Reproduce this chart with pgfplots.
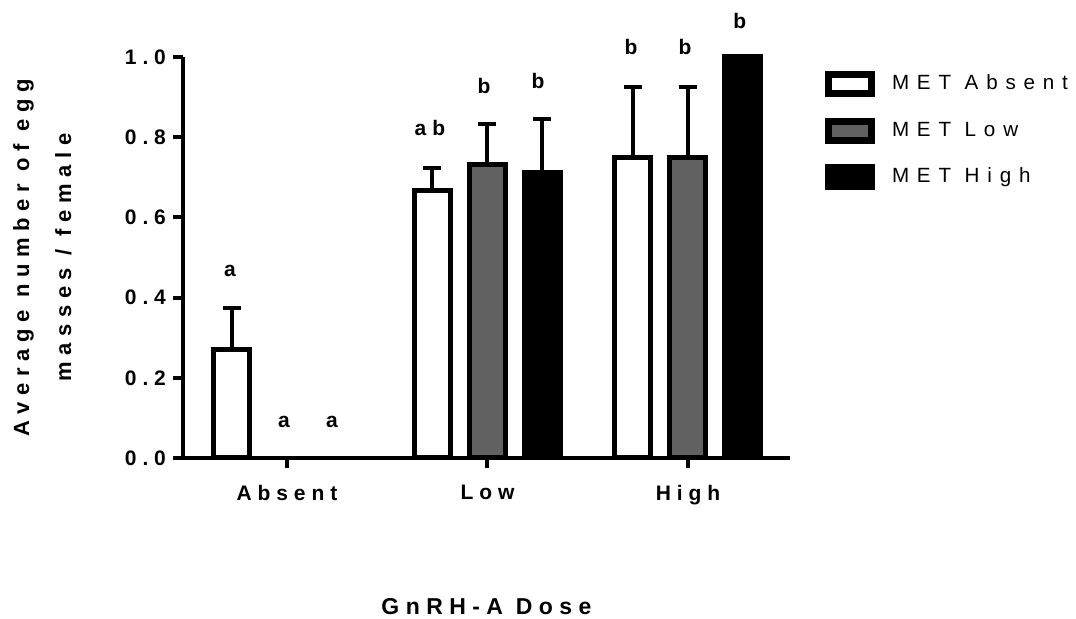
\documentclass[border=0pt]{standalone}
\usepackage{fontspec}
\setmainfont{Liberation Sans}
\newfontfamily\trk[LetterSpace=28]{Liberation Sans}
\newfontfamily\trky[LetterSpace=30]{Liberation Sans}
\newfontfamily\trkl[LetterSpace=38]{Liberation Sans}
\usepackage{pgfplots}
\pgfplotsset{compat=1.18}
\definecolor{metgray}{RGB}{97,97,97}
\pgfplotsset{
  metbar/.style={ybar, bar width=18pt, bar shift=0pt, draw=black, line width=2.5pt,
    error bars/.cd, y dir=plus, y explicit,
    error bar style={line width=2pt, black},
    error mark=-,
    error mark options={rotate=90, line width=2pt, mark size=4.5pt, black}},
}
\begin{document}
\begin{tikzpicture}
\useasboundingbox (0,0) rectangle (538pt,309.5pt);
\begin{axis}[
  at={(91.5pt,80.5pt)}, anchor=south west,
  scale only axis, width=303.5pt, height=200.5pt,
  xmin=-0.5187, xmax=2.509, ymin=0, ymax=1,
  axis x line=bottom, axis y line=left,
  axis line style={-, line width=2.25pt},
  xtick={0,1,2}, xticklabels={Absent,Low,High},
  ytick={0,0.2,0.4,0.6,0.8,1.0},
  yticklabels={0.0,0.2,0.4,0.6,0.8,1.0},
  tick align=outside, major tick length=5pt,
  tick style={line width=2pt, black},
  ticklabel style={font=\trk\bfseries\fontsize{10.5pt}{12pt}\selectfont},
  xticklabel style={yshift=-5pt},
  clip=false,
  xlabel={GnRH-A Dose},
  xlabel style={font=\trk\bfseries\fontsize{11.5pt}{13pt}\selectfont, at={(axis description cs:0.5,-0.3915)}, anchor=base},
  ylabel={Average number of egg\\masses / female},
  ylabel style={font=\trky\bfseries\fontsize{11pt}{21pt}\selectfont, align=center, at={(axis description cs:-0.1829,0.5)}, anchor=south, inner sep=0pt},
  legend image code/.code={\draw[#1, line width=3.5pt] (0pt,-4.75pt) rectangle (21.5pt,4.75pt);},
  legend style={draw=none, fill=none, at={(1.057,0.966)}, anchor=north west, inner sep=0pt,
    font=\trkl\fontsize{10.3pt}{12pt}\selectfont, row sep=10.25pt, column sep=6.5pt},
  legend cell align=left,
]
\addplot[fill=white, metbar]
  coordinates {(-0.2743,0.270) +- (0,0.104) (0.7257,0.667) +- (0,0.056) (1.7257,0.750) +- (0,0.175)};
\addplot[fill=metgray, metbar]
  coordinates {(1,0.733) +- (0,0.100) (2,0.750) +- (0,0.175)};
\addplot[fill=black, metbar]
  coordinates {(1.2743,0.711) +- (0,0.135) (2.2743,1.0) +- (0,0)};
\legend{MET Absent, MET Low, MET High}
\begin{scope}[every node/.style={font=\trk\bfseries\fontsize{10.5pt}{12pt}\selectfont, anchor=base, inner sep=0pt}]
\node at (axis cs:-0.284,0.452) {a};
\node at (axis cs:-0.015,0.075) {a};
\node at (axis cs:0.224,0.075) {a};
\node at (axis cs:0.713,0.803) {ab};
\node at (axis cs:0.983,0.909) {b};
\node at (axis cs:1.252,0.922) {b};
\node at (axis cs:1.716,1.005) {b};
\node at (axis cs:1.985,1.005) {b};
\node at (axis cs:2.259,1.070) {b};
\end{scope}
\end{axis}
\end{tikzpicture}
\end{document}
